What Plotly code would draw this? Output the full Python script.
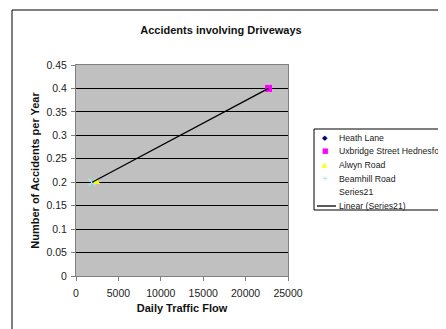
import numpy as np
import plotly.graph_objects as go

# ---------------- data ----------------
series_names = ["Heath Lane", "Uxbridge Street Hednesford", "Alwyn Road", "Beamhill Road"]
series_flow = [[], [22700], [2400], [1900]]          # Heath Lane not visible in chart
series_acc = [[], [0.40], [0.20], [0.20]]
series_colors = ["#000080", "#FF00FF", "#FFFF00", "#A8E4EC"]
series_symbols = ["diamond", "square", "triangle-up", "x-thin"]
legend_glyphs = ["◆", "■", "▲", "✳"]

trend_name = "Series21"
trend_flow = [1900, 22700]
trend_acc = [0.20, 0.40]

x_ticks = [0, 5000, 10000, 15000, 20000, 25000]
x_ticktext = ["0", "5000", "10000", "15000", "20000", "25000"]
y_ticks = [0, 0.05, 0.1, 0.15, 0.2, 0.25, 0.3, 0.35, 0.4, 0.45]
y_ticktext = ["0", "0.05", "0.1", "0.15", "0.2", "0.25", "0.3", "0.35", "0.4", "0.45"]

# ---------------- layout geometry (page px, compensated for page offset) ----------------
W, H = 446, 329
OFF = 8  # default page body margin
L, R, T, B = 76 - OFF, 288 - OFF, 65 - OFF, 276 - OFF
def px_x(x):
    return (x - OFF - L) / (R - L)
def px_y(y):
    return (B - (y - OFF)) / (B - T)

FONT = "Liberation Sans, Arial, sans-serif"

fig = go.Figure()

for name, xs, ys, c, s in zip(series_names, series_flow, series_acc, series_colors, series_symbols):
    fig.add_trace(go.Scatter(
        x=xs, y=ys, mode="markers", name=name, showlegend=False,
        marker=dict(color=c, symbol=s, size=7,
                    line=dict(color=c, width=1.5 if s == "x-thin" else 0)),
    ))

# Series21 (no markers) and its linear trendline
fig.add_trace(go.Scatter(x=trend_flow, y=trend_acc, mode="none", name=trend_name, showlegend=False))
coef = np.polyfit(trend_flow, trend_acc, 1)
tx = np.array([min(trend_flow), max(trend_flow)])
fig.add_trace(go.Scatter(x=tx, y=np.polyval(coef, tx), mode="lines",
                         name=f"Linear ({trend_name})", showlegend=False,
                         line=dict(color="black", width=1.3)))

# ---------------- custom legend (Excel style, tight rows) ----------------
shapes = []
annotations = []
# outer chart frame
shapes.append(dict(type="rect", xref="paper", yref="paper",
                   x0=px_x(12), x1=px_x(480), y0=px_y(350), y1=px_y(10),
                   line=dict(color="black", width=1), fillcolor="rgba(0,0,0,0)", layer="below"))
# legend box
shapes.append(dict(type="rect", xref="paper", yref="paper",
                   x0=px_x(314), x1=px_x(490), y0=px_y(210), y1=px_y(129),
                   line=dict(color="black", width=1), fillcolor="white"))

legend_labels = series_names + [trend_name, f"Linear ({trend_name})"]
row0, dy = 137.5, 13.7
for i, lab in enumerate(legend_labels):
    yy = px_y(row0 + i * dy)
    annotations.append(dict(text=lab, x=px_x(337), y=yy, xref="paper", yref="paper",
                            xanchor="left", yanchor="middle", showarrow=False,
                            font=dict(family=FONT, size=8.7, color="#222")))
    if i < len(series_names):
        annotations.append(dict(text=legend_glyphs[i], x=px_x(325), y=yy, xref="paper", yref="paper",
                                xanchor="center", yanchor="middle", showarrow=False,
                                font=dict(family="DejaVu Sans", size=7, color=series_colors[i])))
    elif lab.startswith("Linear"):
        shapes.append(dict(type="line", xref="paper", yref="paper",
                           x0=px_x(317), x1=px_x(336), y0=yy, y1=yy,
                           line=dict(color="black", width=1.3)))

fig.update_layout(
    width=W, height=H,
    margin=dict(l=L, r=W - R, t=T, b=H - B),
    paper_bgcolor="white", plot_bgcolor="#C0C0C0",
    title=dict(text="<b>Accidents involving Driveways</b>", x=(221 - OFF) / W, xanchor="center",
               y=1 - (30 - OFF) / H, yanchor="middle",
               font=dict(family=FONT, size=11, color="#111")),
    font=dict(family=FONT, size=10, color="#222"),
    showlegend=False,
    shapes=shapes, annotations=annotations,
)
fig.update_xaxes(range=[0, 25000], tickvals=x_ticks, ticktext=x_ticktext,
                 showgrid=False, zeroline=False, showline=True, linecolor="#808080", linewidth=1,
                 mirror=True, ticks="outside", ticklen=4, tickcolor="#808080",
                 ticklabelstandoff=3,
                 tickfont=dict(family=FONT, size=10.5, color="#222"),
                 title=dict(text="<b>Daily Traffic Flow</b>", standoff=6,
                            font=dict(family=FONT, size=11, color="#111")))
fig.update_yaxes(range=[0, 0.45], tickvals=y_ticks, ticktext=y_ticktext,
                 showgrid=True, gridcolor="black", gridwidth=1, zeroline=False,
                 showline=True, linecolor="#808080", linewidth=1, mirror=True,
                 ticks="outside", ticklen=4, tickcolor="#808080",
                 ticklabelstandoff=2,
                 tickfont=dict(family=FONT, size=10.5, color="#222"),
                 title=dict(text="<b>Number of Accidents per Year</b>", standoff=4,
                            font=dict(family=FONT, size=11, color="#111")))

fig.write_html("out.html")
